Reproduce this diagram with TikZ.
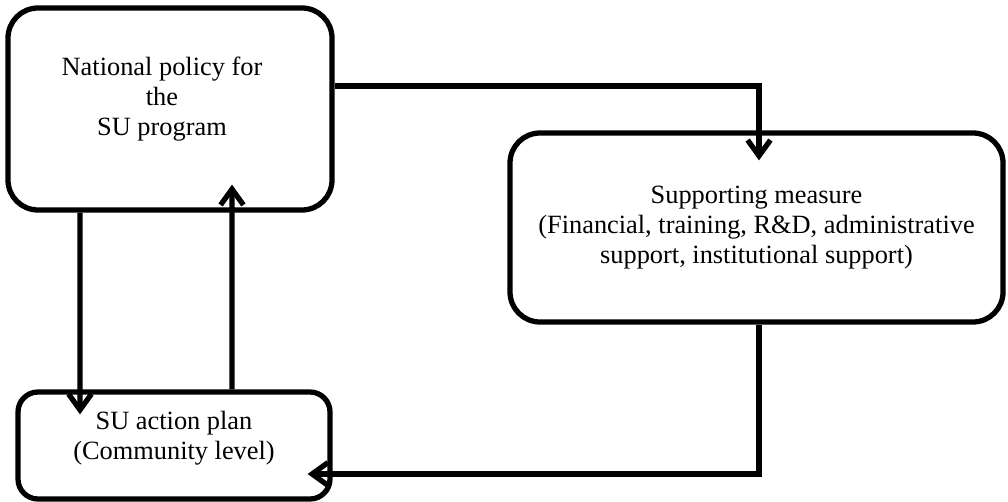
\documentclass[tikz,border=0pt]{standalone}
\usepackage{fontspec}
\setmainfont{Liberation Serif}
\usetikzlibrary{arrows.meta, positioning, calc}
\tikzset{
  stagebox/.style={draw, line width=3pt, rounded corners=#1, inner sep=0pt},
  stagebox/.default=0.6cm,
  stagetext/.style={align=center, font=\fontsize{15}{17}\selectfont},
  flow/.style={-{Straight Barb[length=9pt,width=13pt]}, line width=3pt}
}

\begin{document}
\begin{tikzpicture}
  \useasboundingbox (0,0) rectangle (20.16,-10.02);
  % the three stages
  \node[stagebox, minimum width=6.48cm, minimum height=4.04cm,
    label={[stagetext, xshift=-0.16cm, yshift=0.2cm]center:{National policy for\\the\\SU program}}]
    (policy) at (3.40,-2.18) {};
  \node[stagebox, minimum width=9.86cm, minimum height=3.78cm,
    label={[stagetext]center:{Supporting measure\\(Financial, training, R\&D, administrative\\support, institutional support)}}]
    (support) at (15.13,-4.55) {};
  \node[stagebox=0.4cm, minimum width=6.24cm, minimum height=2.14cm,
    label={[stagetext, yshift=0.14cm]center:{SU action plan\\(Community level)}}]
    (action) at (3.48,-8.91) {};
  % connectors
  \draw[flow] ($(policy.east)+(0,0.46)$) -| ($(support.north)+(0.05,-0.6)$);
  \draw[flow] ($(policy.south)+(-1.8,0)$) -- ($(action.north)+(-1.88,-0.5)$);
  \draw[flow] ($(action.north)+(1.16,0)$) -- ($(policy.south)+(1.24,0.56)$);
  \draw[flow] ($(support.south)+(0.05,0)$) |- ($(action.east)+(-0.5,-0.57)$);
\end{tikzpicture}
\end{document}
